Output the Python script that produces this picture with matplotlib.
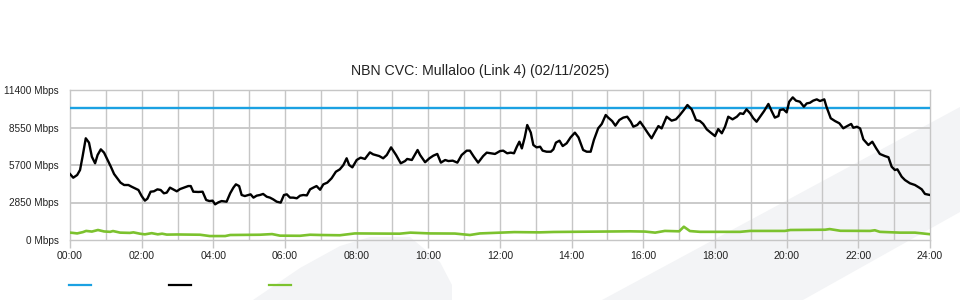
import matplotlib
matplotlib.use("Agg")
import matplotlib.pyplot as plt
from matplotlib.lines import Line2D
from matplotlib.patches import Polygon

# ------------------------------
# Data
# ------------------------------
TITLE = "NBN CVC: Mullaloo (Link 4) (02/11/2025)"

CAPACITY_MBPS = 10000

# traffic (black), hours since midnight / Mbps
traffic_hours = [
    0.00, 0.09, 0.20, 0.28, 0.35, 0.44, 0.53, 0.61, 0.70, 0.77, 0.86, 0.95,
    1.04, 1.14, 1.23, 1.32, 1.41, 1.51, 1.63, 1.72, 1.81, 1.91, 2.00, 2.09,
    2.16, 2.25, 2.34, 2.44, 2.53, 2.62, 2.70, 2.79, 2.88, 2.98, 3.07, 3.18,
    3.30, 3.37, 3.44, 3.58, 3.70, 3.80, 3.89, 3.98, 4.05, 4.14, 4.23, 4.37,
    4.47, 4.56, 4.63, 4.72, 4.79, 4.88, 4.98, 5.04, 5.12, 5.21, 5.30, 5.39,
    5.49, 5.58, 5.67, 5.77, 5.88, 5.97, 6.05, 6.14, 6.23, 6.33, 6.42, 6.51,
    6.61, 6.70, 6.79, 6.88, 6.98, 7.07, 7.18, 7.30, 7.42, 7.53, 7.63, 7.72,
    7.79, 7.88, 8.00, 8.11, 8.23, 8.37, 8.46, 8.63, 8.74, 8.84, 8.96, 9.10,
    9.23, 9.35, 9.41, 9.54, 9.70, 9.77, 9.91, 10.03, 10.14, 10.25, 10.35, 10.47,
    10.56, 10.68, 10.81, 10.93, 11.07, 11.16, 11.27, 11.39, 11.53, 11.63, 11.74, 11.86,
    12.00, 12.09, 12.20, 12.30, 12.39, 12.47, 12.54, 12.61, 12.69, 12.76, 12.86, 12.93,
    13.02, 13.12, 13.19, 13.30, 13.42, 13.49, 13.56, 13.66, 13.75, 13.86, 13.97, 14.09,
    14.19, 14.32, 14.42, 14.53, 14.62, 14.74, 14.84, 14.95, 15.02, 15.13, 15.22, 15.33,
    15.44, 15.55, 15.65, 15.72, 15.83, 15.91, 16.02, 16.13, 16.23, 16.33, 16.42, 16.51,
    16.65, 16.79, 16.91, 17.02, 17.13, 17.23, 17.35, 17.47, 17.58, 17.67, 17.77, 17.88,
    18.00, 18.09, 18.19, 18.28, 18.37, 18.49, 18.61, 18.70, 18.79, 18.88, 18.98, 19.07,
    19.16, 19.26, 19.37, 19.49, 19.58, 19.67, 19.77, 19.81, 19.91, 20.00, 20.07, 20.17,
    20.26, 20.37, 20.48, 20.56, 20.65, 20.74, 20.84, 20.93, 21.05, 21.11, 21.23, 21.35,
    21.47, 21.58, 21.69, 21.80, 21.86, 21.96, 22.05, 22.14, 22.28, 22.39, 22.50, 22.60,
    22.74, 22.84, 22.93, 23.02, 23.09, 23.21, 23.30, 23.44, 23.58, 23.70, 23.77, 23.86,
    24.00,
]
traffic_mbps = [
    5016, 4735, 4940, 5320, 6330, 7730, 7400, 6330, 5830, 6460, 6890, 6640,
    6130, 5570, 5016, 4690, 4360, 4180, 4180, 4050, 3930, 3800, 3340, 2990,
    3140, 3670, 3700, 3850, 3800, 3550, 3600, 3980, 3850, 3700, 3870, 3980,
    4100, 4100, 3670, 3650, 3670, 3040, 2960, 2990, 2710, 2860, 2960, 2910,
    3550, 3980, 4230, 4100, 3420, 3340, 3420, 3470, 3220, 3370, 3420, 3500,
    3290, 3220, 3090, 2910, 2840, 3420, 3470, 3220, 3220, 3170, 3370, 3420,
    3390, 3850, 3980, 4100, 3820, 4230, 4360, 4690, 5190, 5370, 5700, 6210,
    5700, 5520, 6080, 6260, 6160, 6660, 6510, 6380, 6210, 6460, 7040, 6460,
    5830, 6000, 6160, 6080, 6840, 6460, 5910, 6210, 6410, 6540, 5880, 6080,
    6000, 6030, 5880, 6460, 6790, 6790, 6330, 5880, 6380, 6640, 6590, 6540,
    6760, 6790, 6590, 6640, 6590, 7090, 7470, 6960, 7800, 8740, 8160, 7220,
    7040, 7090, 6790, 6710, 6710, 6890, 7400, 7550, 7140, 7350, 7800, 8160,
    7800, 6840, 6710, 6710, 7600, 8490, 8820, 9500, 9300, 9040, 8690, 9120,
    9300, 9370, 8990, 8610, 8740, 8990, 8560, 8110, 7730, 8230, 8660, 8480,
    9370, 9070, 9170, 9500, 9880, 10260, 9930, 9120, 9040, 8820, 8410, 8160,
    7900, 8430, 8110, 8610, 9370, 9170, 9370, 9630, 9580, 9930, 9630, 9250,
    8990, 9370, 9800, 10340, 9800, 9300, 9420, 9880, 9930, 9700, 10510, 10840,
    10590, 10510, 10130, 10380, 10430, 10590, 10690, 10560, 10690, 10130, 9250, 9040,
    8870, 8490, 8660, 8820, 8530, 8610, 8480, 7650, 7220, 7470, 6960, 6540,
    6380, 6290, 5570, 5320, 5370, 4810, 4560, 4310, 4180, 3980, 3850, 3500,
    3420,
]

# second series (green)
green_hours = [
    0.00, 0.08, 0.20, 0.36, 0.45, 0.61, 0.78, 0.95, 1.12, 1.20, 1.40, 1.67,
    1.77, 1.95, 2.09, 2.28, 2.45, 2.57, 2.70, 3.00, 3.63, 3.90, 4.33, 4.47,
    5.30, 5.64, 5.86, 6.42, 6.70, 6.98, 7.53, 7.95, 9.20, 9.50, 10.05, 10.74,
    11.16, 11.44, 12.40, 13.10, 13.50, 14.80, 15.63, 16.05, 16.33, 16.60, 17.00, 17.13,
    17.30, 17.58, 18.70, 18.98, 19.95, 20.10, 21.07, 21.20, 21.50, 22.33, 22.46, 22.60,
    23.16, 23.58, 24.00,
]
green_mbps = [
    560, 540, 500, 600, 690, 640, 760, 650, 620, 680, 560, 540,
    580, 480, 430, 520, 430, 480, 410, 420, 400, 300, 300, 380,
    400, 450, 330, 320, 400, 380, 360, 500, 480, 560, 500, 490,
    380, 500, 600, 580, 610, 640, 660, 640, 560, 690, 660, 1010,
    680, 620, 620, 690, 690, 760, 780, 830, 700, 690, 740, 620,
    560, 560, 440,
]

y_ticks = [0, 2850, 5700, 8550, 11400]
x_ticks = list(range(0, 25, 2))
x_tick_labels = [f"{h:02d}:00" for h in x_ticks]

BLUE = "#1ba1e2"
BLACK = "#000000"
GREEN = "#7cc22e"
GRID = "#c6c6c6"

plt.rcParams["font.family"] = ["Liberation Sans", "DejaVu Sans"]

fig = plt.figure(figsize=(9.6, 3.0), dpi=100, facecolor="white")

# faint watermark shapes in the background
blob = Polygon(
    [(253, 300), (300, 268), (340, 246), (370, 237), (410, 237), (440, 262), (452, 285), (452, 300)],
    closed=True, transform=None, facecolor="#f3f4f6", edgecolor="none", zorder=0,
)
band = Polygon(
    [(602, 300), (960, 107), (960, 212), (803, 300)],
    closed=True, transform=None, facecolor="#f3f4f6", edgecolor="none", zorder=0,
)
# pixel coords measured from top; convert to display coords (origin bottom-left)
for patch in (blob, band):
    xy = patch.get_xy()
    xy[:, 1] = 300 - xy[:, 1]
    patch.set_xy(xy)
    fig.add_artist(patch)

ax = fig.add_axes([70 / 960, 0.2, 860 / 960, 0.5])
ax.set_facecolor("none")

ax.set_xlim(0, 24)
ax.set_ylim(0, 11400)

# grid: every hour vertically, every tick horizontally
for h in range(1, 24):
    ax.axvline(h, color=GRID, lw=1.0, zorder=1)
for v in y_ticks[1:-1]:
    ax.axhline(v, color=GRID, lw=1.3, zorder=1)

for side in ax.spines.values():
    side.set_color(GRID)
    side.set_linewidth(1.0)

ax.axhline(CAPACITY_MBPS, color=BLUE, lw=1.7, zorder=3)
ax.plot(green_hours, green_mbps, color=GREEN, lw=1.9, zorder=3)
ax.plot(traffic_hours, traffic_mbps, color=BLACK, lw=1.7, zorder=4)

ax.set_xticks(x_ticks)
ax.set_xticklabels(x_tick_labels)
ax.set_yticks(y_ticks)
ax.set_yticklabels([f"{v} Mbps" for v in y_ticks])
ax.tick_params(axis="x", length=6, width=1, color=GRID, labelsize=7.6, labelcolor="#222222", pad=2)
ax.tick_params(axis="y", length=0, labelsize=7.2, labelcolor="#222222", pad=8)

fig.text(0.5, 0.765, TITLE, ha="center", va="center", fontsize=10.2, color="#222222")

# legend swatches without labels
for x0, col in [(69, BLUE), (169, BLACK), (269, GREEN)]:
    fig.add_artist(Line2D([x0 / 960, (x0 + 22) / 960], [15 / 300, 15 / 300],
                          color=col, lw=1.6, transform=fig.transFigure))

fig.savefig("out.png", dpi=100, facecolor="white")
